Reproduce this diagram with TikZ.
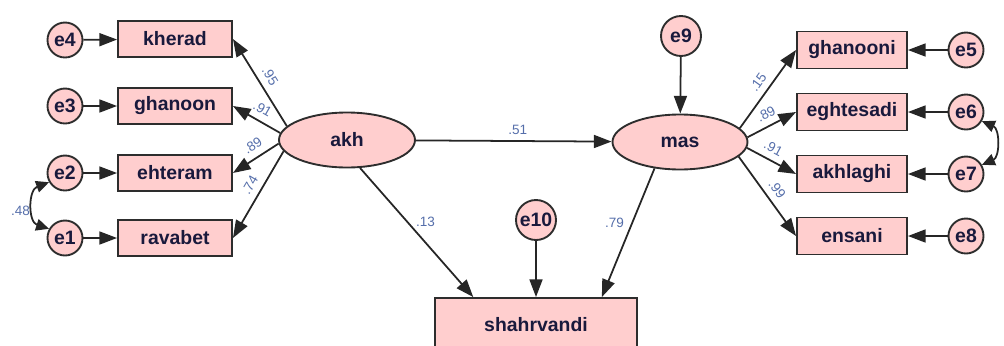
\documentclass[tikz,border=0pt]{standalone}
\usepackage{fontspec}
\setmainfont{Liberation Sans}
\usetikzlibrary{arrows.meta,shapes.geometric}
\definecolor{nodefill}{RGB}{255,206,206}
\definecolor{nodeline}{RGB}{45,45,45}
\definecolor{nodetext}{RGB}{25,25,60}
\definecolor{labtext}{RGB}{85,110,170}
\begin{document}
\begin{tikzpicture}[x=0.85pt,y=-0.85pt,
  boxfont/.style={font=\fontsize{16.5}{18}\selectfont\bfseries, text=nodetext},
  obs/.style={draw=nodeline, line width=1.6pt, fill=nodefill, rectangle,
    minimum width=114*0.85pt, minimum height=36*0.85pt, inner sep=0pt, boxfont},
  obsr/.style={obs, minimum width=110*0.85pt, minimum height=37*0.85pt},
  err/.style={draw=nodeline, line width=1.6pt, fill=nodefill, circle,
    minimum size=35*0.85pt, inner sep=0pt, boxfont},
  errbig/.style={err, minimum size=40*0.85pt},
  lat/.style={draw=nodeline, line width=1.6pt, fill=nodefill, ellipse,
    minimum width=136*0.85pt, minimum height=55*0.85pt, inner sep=0pt, boxfont},
  arr/.style={draw=black!85, line width=1.5pt, -{Triangle[length=15pt,width=11pt]}},
  cov/.style={draw=black!85, line width=1.5pt,
    {Triangle[length=11pt,width=10pt]}-{Triangle[length=11pt,width=10pt]}},
  coeffont/.style={font=\fontsize{11.5}{12}\selectfont, text=labtext, inner sep=0.5pt},
  coef/.style={coeffont, sloped, above=5pt}
]
\useasboundingbox (0,0) rectangle (1004,345);

% left indicators
\node[obs] (kherad)  at (175,39)  {kherad};
\node[obs] (ghanoon) at (175,106) {ghanoon};
\node[obs] (ehteram) at (175,173) {ehteram};
\node[obs] (ravabet) at (175,238) {ravabet};
\node[err] (e4) at (65,40)  {e4};
\node[err] (e3) at (65,106) {e3};
\node[err] (e2) at (65,173) {e2};
\node[err] (e1) at (65,238) {e1};

% right indicators
\node[obsr] (ghanooni)  at (852,50)  {ghanooni};
\node[obsr] (eghtesadi) at (852,112) {eghtesadi};
\node[obsr] (akhlaghi)  at (852,174) {akhlaghi};
\node[obsr] (ensani)    at (852,236) {ensani};
\node[err] (e5) at (966,50)  {e5};
\node[err] (e6) at (966,112) {e6};
\node[err] (e7) at (966,174) {e7};
\node[err] (e8) at (966,236) {e8};

% latents
\node[lat] (akh) at (347,140) {akh};
\node[lat, minimum width=135*0.85pt] (mas) at (680,142) {mas};
\node[errbig] (e9)  at (681,36)  {e9};
\node[errbig] (e10) at (536,220) {e10};
\node[obs, minimum width=202*0.85pt, minimum height=54*0.85pt] (shahr) at (536,325) {shahrvandi};

% error paths
\draw[arr] (e4) -- (kherad);
\draw[arr] (e3) -- (ghanoon);
\draw[arr] (e2) -- (ehteram);
\draw[arr] (e1) -- (ravabet);
\draw[arr] (e5) -- (ghanooni);
\draw[arr] (e6) -- (eghtesadi);
\draw[arr] (e7) -- (akhlaghi);
\draw[arr] (e8) -- (ensani);
\draw[arr] (e9) -- (mas);
\draw[arr] (e10) -- (shahr);

% loadings
\draw[arr] (akh.167) -- node[coef, pos=0.5] {.95} (kherad.east);
\draw[arr] (akh.174) -- node[coef, pos=0.5] {.91} (ghanoon.east);
\draw[arr] (akh.183) -- node[coef, pos=0.42] {.89} (ehteram.east);
\draw[arr] (akh.190) -- node[coef, pos=0.46] {.74} (ravabet.east);
\draw[arr] (mas.13) -- node[coef, pos=0.5] {.15} (ghanooni.west);
\draw[arr] (mas.4) -- node[coef, pos=0.5] {.89} (eghtesadi.west);
\draw[arr] (mas.-5) -- node[coef, pos=0.42] {.91} (akhlaghi.west);
\draw[arr] (mas.-14) -- node[coef, pos=0.5] {.99} (ensani.west);

% structural paths
\draw[arr] (akh) -- node[coeffont, above=4pt, pos=0.52] {.51} (mas);
\draw[arr] (akh.-65) -- node[coeffont, right=6pt, pos=0.42] {.13} (shahr.156);
\draw[arr] (mas.226) -- node[coeffont, left=6pt, pos=0.42] {.79} (shahr.23.5);

% covariances
\draw[cov] (e2.210) .. controls (28,190) and (28,222) .. node[coeffont, pos=0.58, left=2pt] {.48} (e1.150);
\draw[cov] (e6.-30) .. controls (1000,129) and (1000,157) .. (e7.30);
\end{tikzpicture}
\end{document}
